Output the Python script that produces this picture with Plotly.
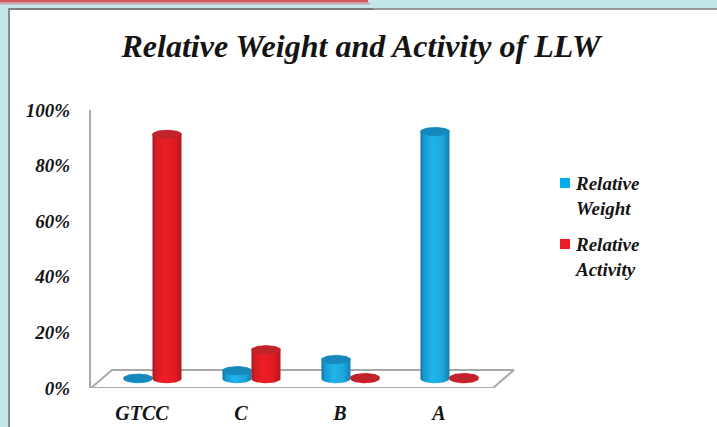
import numpy as np
import plotly.graph_objects as go

# ---- data -------------------------------------------------------------
categories = ["GTCC", "C", "B", "A"]
relative_weight = [0.3, 3.0, 7.0, 89.0]      # percent
relative_activity = [88.0, 10.5, 0.5, 0.5]   # percent
y_ticks = [0, 20, 40, 60, 80, 100]
y_tick_labels = ["0%", "20%", "40%", "60%", "80%", "100%"]
series_names = ["Relative<br>Weight", "Relative<br>Activity"]

# ---- geometry of the pseudo-3D plot ---------------------------------
W, H = 717, 427
L, R, T, B = 91, 530, 110, 388          # plot area in pixels
PX_X = 99.0                             # pixels per category step
X0_PX = 142.0                           # pixel position of first category
PX_Y = (B - T) / 100.0                  # pixels per percent

x_range = [(L - X0_PX) / PX_X, (R - X0_PX) / PX_X]
DX = 21 / PX_X                          # floor depth (x units)
DY = 18 / PX_Y                          # floor depth (percent units)
RX = 14.5 / PX_X                        # cylinder radius
RY = 4.2 / PX_Y                         # ellipse half height
FLOOR_RIGHT = (493 - X0_PX) / PX_X

FONT = "Liberation Serif"
INK = "#141414"
EDGE = "#a9a9a9"


def px_to_paper(px, py):
    return (px - L) / (R - L), (B - py) / (B - T)


blue_scale = [[0, "#0e6f9c"], [0.1, "#1597cd"], [0.4, "#20b4ea"],
              [0.75, "#1ca8df"], [1, "#127fb1"]]
red_scale = [[0, "#9e151b"], [0.1, "#d31b23"], [0.4, "#ee1d26"],
             [0.75, "#e21b24"], [1, "#b3171e"]]
blue_top = "#1788bb"
red_top = "#bf242b"

fig = go.Figure()

# floor of the chart (parallelogram)
fx0 = x_range[0]
fig.add_trace(go.Scatter(
    x=[fx0, FLOOR_RIGHT, FLOOR_RIGHT + DX, fx0 + DX, fx0],
    y=[0, 0, DY, DY, 0],
    mode="lines", fill="toself", fillcolor="white",
    line=dict(color=EDGE, width=2), hoverinfo="skip",
    showlegend=False, cliponaxis=False))


def cylinder(cx, value, scale, top_color):
    yb = DY / 2
    yt = yb + value
    t1 = np.linspace(np.pi, 2 * np.pi, 40)
    t2 = np.linspace(0, np.pi, 40)
    xs = np.concatenate([cx + RX * np.cos(t1), [cx + RX],
                         cx + RX * np.cos(t2), [cx - RX]])
    ys = np.concatenate([yb + RY * np.sin(t1), [yt],
                         yt + RY * np.sin(t2), [yb]])
    fig.add_trace(go.Scatter(
        x=xs, y=ys, mode="lines", fill="toself",
        fillgradient=dict(type="horizontal", colorscale=scale),
        line=dict(width=0), hoverinfo="skip", showlegend=False,
        cliponaxis=False))
    t = np.linspace(0, 2 * np.pi, 80)
    fig.add_trace(go.Scatter(
        x=cx + RX * np.cos(t), y=yt + RY * np.sin(t),
        mode="lines", fill="toself", fillcolor=top_color,
        line=dict(width=0.6, color=top_color), hoverinfo="skip",
        showlegend=False, cliponaxis=False))


for i, (w, a) in enumerate(zip(relative_weight, relative_activity)):
    gc = i + DX / 2
    cylinder(gc - RX, w, blue_scale, blue_top)
    cylinder(gc + RX, a, red_scale, red_top)

# ---- frame decoration ------------------------------------------------
shapes = []


def rect(px0, py0, px1, py1, color, layer="below"):
    x0, y0 = px_to_paper(px0, py0)
    x1, y1 = px_to_paper(px1, py1)
    shapes.append(dict(type="rect", xref="paper", yref="paper",
                       x0=x0, y0=y0, x1=x1, y1=y1, fillcolor=color,
                       line=dict(width=0), layer=layer))


rect(10, 10, W + 5, H + 5, "white")
rect(8, 8, W + 5, 10, "#999999")
rect(8, 8, 373, 10, "#7d7d7d")
rect(8, 8, 10, H + 5, "#8a8a8a")
rect(0, 0, 368, 2.5, "#d0585a")
rect(0, 2.5, 370, 4.5, "#c9a3a6")

# legend swatches and text
annotations = []
legend_colors = ["#00aeef", "#ed1c24"]
legend_tops = [178, 239]
for name, col, top in zip(series_names, legend_colors, legend_tops):
    rect(560, top, 570, top + 10, col, layer="above")
    lx, ly = px_to_paper(573, top - 7)
    annotations.append(dict(
        x=lx, y=ly, xref="paper", yref="paper", text=name,
        showarrow=False, xanchor="left", yanchor="top", align="left",
        font=dict(family=FONT, size=19, weight="bold", style="italic",
                  color=INK)))

tick_font = dict(family=FONT, size=19, weight="bold", style="italic",
                 color=INK)
cat_font = dict(tick_font, size=20)

fig.update_layout(
    width=W, height=H,
    margin=dict(l=L, r=W - R, t=T, b=H - B, autoexpand=False),
    paper_bgcolor="#c4e7eb",
    plot_bgcolor="rgba(0,0,0,0)",
    title=dict(text="Relative Weight and Activity of LLW",
               x=361 / W, xref="container", xanchor="center",
               y=1 - 46 / H, yref="container", yanchor="middle",
               automargin=False,
               font=dict(family=FONT, size=32, weight="bold",
                         style="italic", color=INK)),
    xaxis=dict(range=x_range, tickvals=list(range(len(categories))),
               ticktext=categories, showgrid=False, zeroline=False,
               showline=False, ticks="", ticklabelstandoff=11,
               automargin=False, tickfont=cat_font, fixedrange=True),
    yaxis=dict(range=[0, 100], tickvals=y_ticks, ticktext=y_tick_labels,
               showgrid=False, zeroline=False, showline=True,
               linecolor=EDGE, linewidth=2, ticks="",
               ticklabelstandoff=15, automargin=False,
               tickfont=tick_font, fixedrange=True),
    shapes=shapes,
    annotations=annotations,
    showlegend=False,
)

fig.write_html("out.html")
